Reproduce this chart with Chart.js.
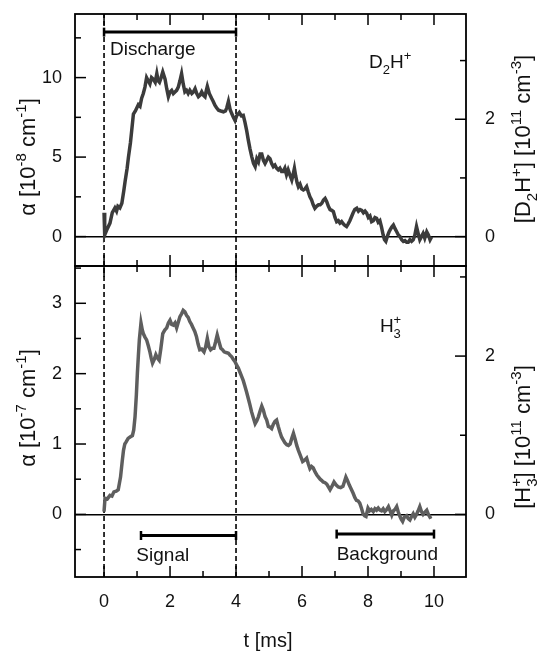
<!DOCTYPE html>
<html>
<head>
<meta charset="utf-8">
<script src="https://cdn.jsdelivr.net/npm/chart.js@4"></script>
<style>
  html, body { margin: 0; background: #fff; }
  #wrap { position: relative; width: 537px; height: 653px; overflow: hidden; }
  canvas { position: absolute; left: 0; }
  #top { top: -20px; }
  #bottom { top: 240px; }
</style>
</head>
<body>
<div id="wrap">
  <canvas id="bottom" width="537" height="413"></canvas>
  <canvas id="top" width="537" height="310"></canvas>
</div>
<script>
// D2H+ absorption (10^-8 cm^-1) vs time (ms)
const d2hTime = [0.00, 0.02, 0.10, 0.18, 0.25, 0.33, 0.38, 0.42, 0.48, 0.54, 0.60, 0.64, 0.70, 0.74, 0.80, 0.84, 0.89, 0.95, 1.04, 1.09,
    1.14, 1.19, 1.24, 1.29, 1.34, 1.39, 1.44, 1.49, 1.55, 1.60, 1.64, 1.68, 1.73, 1.78, 1.85, 1.90, 1.95, 2.00, 2.05, 2.10,
    2.15, 2.20, 2.25, 2.30, 2.35, 2.40, 2.45, 2.50, 2.55, 2.60, 2.66, 2.71, 2.76, 2.81, 2.86, 2.91, 2.96, 3.01, 3.06, 3.10,
    3.13, 3.19, 3.26, 3.31, 3.36, 3.41, 3.47, 3.54, 3.62, 3.68, 3.72, 3.77, 3.82, 3.87, 3.92, 3.97, 4.02, 4.10, 4.16, 4.22,
    4.27, 4.32, 4.37, 4.42, 4.48, 4.53, 4.58, 4.63, 4.68, 4.73, 4.78, 4.83, 4.88, 4.93, 4.98, 5.03, 5.08, 5.13, 5.18, 5.23,
    5.28, 5.33, 5.38, 5.43, 5.48, 5.53, 5.58, 5.63, 5.69, 5.73, 5.77, 5.81, 5.85, 5.89, 5.94, 5.99, 6.04, 6.09, 6.14, 6.19,
    6.24, 6.29, 6.34, 6.39, 6.44, 6.50, 6.55, 6.60, 6.65, 6.70, 6.75, 6.80, 6.85, 6.90, 6.95, 7.00, 7.05, 7.10, 7.15, 7.20,
    7.25, 7.30, 7.35, 7.40, 7.45, 7.50, 7.55, 7.60, 7.66, 7.71, 7.76, 7.81, 7.86, 7.91, 7.96, 8.01, 8.06, 8.11, 8.16, 8.21,
    8.26, 8.31, 8.36, 8.41, 8.46, 8.50, 8.54, 8.60, 8.64, 8.67, 8.72, 8.77, 8.82, 8.87, 8.92, 8.97, 9.02, 9.07, 9.12, 9.17,
    9.22, 9.27, 9.32, 9.37, 9.42, 9.47, 9.52, 9.57, 9.62, 9.67, 9.72, 9.78, 9.83, 9.88, 9.93]
const d2hAlpha = [1.5, 0.1, 0.5, 0.85, 1.5, 1.8, 1.6, 1.9, 1.8, 2.1, 2.9, 3.5, 4.3, 5.0, 5.9, 6.7, 7.7, 7.9, 8.3, 8.2,
    8.7, 9.0, 9.4, 10.0, 9.8, 9.6, 10.0, 9.9, 9.7, 10.25, 9.8, 9.7, 10.0, 10.35, 9.9, 9.3, 8.8, 9.1, 9.2, 9.0,
    9.1, 9.2, 9.4, 9.8, 10.25, 9.6, 9.1, 9.2, 9.0, 9.2, 9.0, 9.1, 9.3, 9.0, 8.8, 8.9, 9.1, 8.9, 8.8, 9.2,
    9.45, 9.0, 8.7, 8.5, 8.26, 8.1, 7.95, 7.9, 7.85, 7.9, 8.1, 8.5, 8.0, 7.74, 7.5, 7.3, 7.6, 7.8, 7.6, 7.63,
    7.2, 6.7, 6.1, 5.55, 5.0, 4.6, 4.4, 4.9, 4.7, 5.2, 5.2, 4.8, 4.6, 4.8, 5.0, 4.9, 4.6, 4.4, 4.5, 4.3,
    4.2, 4.3, 4.1, 4.1, 4.3, 3.9, 4.2, 3.9, 3.56, 3.9, 4.3, 3.8, 3.4, 3.14, 3.3, 3.0, 2.93, 3.0, 3.14, 2.8,
    2.5, 2.3, 2.0, 1.78, 1.9, 2.0, 2.0, 2.1, 2.3, 2.4, 2.2, 1.9, 1.7, 1.65, 1.57, 1.2, 0.94, 1.0, 0.85, 0.94,
    0.8, 0.7, 0.63, 0.8, 1.0, 1.25, 1.5, 1.7, 1.78, 1.6, 1.7, 1.65, 1.5, 1.6, 1.47, 1.2, 1.3, 0.94, 1.0, 1.2,
    1.15, 0.9, 1.0, 0.6, 0.1, -0.2, -0.3, 0.1, 0.3, 0.42, 0.6, 0.73, 0.5, 0.3, 0.1, 0.0, -0.2, -0.3, -0.25, -0.35,
    -0.35, -0.2, -0.3, -0.2, 0.1, 0.63, 0.2, -0.2, 0.0, 0.2, -0.1, 0.3, 0.1, -0.2, 0.0]

// H3+ absorption (10^-7 cm^-1) vs time (ms)
const h3Time = [0.00, 0.03, 0.10, 0.18, 0.24, 0.30, 0.37, 0.43, 0.50, 0.55, 0.59, 0.63, 0.67, 0.73, 0.79, 0.86, 0.90, 0.94, 0.98, 1.01,
    1.04, 1.07, 1.12, 1.16, 1.19, 1.24, 1.29, 1.34, 1.39, 1.43, 1.47, 1.52, 1.57, 1.62, 1.67, 1.72, 1.78, 1.84, 1.90, 1.95,
    2.00, 2.05, 2.10, 2.15, 2.20, 2.25, 2.30, 2.35, 2.40, 2.45, 2.50, 2.55, 2.60, 2.65, 2.70, 2.75, 2.80, 2.85, 2.90, 2.96,
    3.03, 3.08, 3.13, 3.18, 3.23, 3.28, 3.33, 3.38, 3.43, 3.48, 3.54, 3.59, 3.64, 3.70, 3.77, 3.82, 3.87, 3.92, 3.97, 4.02,
    4.07, 4.12, 4.17, 4.22, 4.27, 4.32, 4.37, 4.42, 4.47, 4.52, 4.58, 4.63, 4.68, 4.73, 4.78, 4.83, 4.88, 4.93, 4.98, 5.03,
    5.08, 5.13, 5.18, 5.23, 5.28, 5.33, 5.38, 5.43, 5.48, 5.54, 5.59, 5.64, 5.69, 5.74, 5.79, 5.84, 5.89, 5.94, 5.98, 6.02,
    6.08, 6.14, 6.19, 6.24, 6.29, 6.34, 6.40, 6.45, 6.50, 6.55, 6.60, 6.64, 6.70, 6.75, 6.80, 6.85, 6.91, 6.97, 7.03, 7.10,
    7.17, 7.24, 7.29, 7.33, 7.38, 7.43, 7.49, 7.55, 7.60, 7.65, 7.70, 7.75, 7.80, 7.85, 7.90, 7.94, 8.00, 8.05, 8.10, 8.16,
    8.21, 8.26, 8.31, 8.36, 8.41, 8.46, 8.51, 8.57, 8.62, 8.67, 8.72, 8.77, 8.82, 8.87, 8.92, 8.97, 9.01, 9.05, 9.10, 9.17,
    9.22, 9.27, 9.32, 9.37, 9.42, 9.47, 9.52, 9.57, 9.62, 9.67, 9.72, 9.78, 9.83, 9.88, 9.93]
const h3Alpha = [0.04, 0.23, 0.22, 0.27, 0.26, 0.32, 0.33, 0.35, 0.53, 0.75, 0.91, 1.0, 1.03, 1.08, 1.1, 1.12, 1.2, 1.39, 1.7, 2.0,
    2.25, 2.48, 2.72, 2.62, 2.57, 2.52, 2.48, 2.40, 2.31, 2.22, 2.15, 2.2, 2.27, 2.22, 2.19, 2.35, 2.57, 2.62, 2.65, 2.72,
    2.76, 2.70, 2.69, 2.72, 2.65, 2.73, 2.81, 2.85, 2.9, 2.88, 2.83, 2.8, 2.74, 2.70, 2.65, 2.6, 2.53, 2.42, 2.34, 2.35,
    2.31, 2.38, 2.5, 2.38, 2.34, 2.36, 2.36, 2.45, 2.55, 2.46, 2.36, 2.34, 2.31, 2.3, 2.29, 2.26, 2.24, 2.2, 2.17, 2.12,
    2.08, 2.02, 1.96, 1.9, 1.82, 1.74, 1.65, 1.56, 1.46, 1.38, 1.29, 1.33, 1.39, 1.47, 1.54, 1.48, 1.39, 1.34, 1.25, 1.24,
    1.22, 1.28, 1.32, 1.34, 1.25, 1.17, 1.1, 1.06, 1.02, 0.99, 0.98, 1.0, 1.08, 1.15, 1.07, 0.98, 0.91, 0.85, 0.8, 0.75,
    0.77, 0.8, 0.72, 0.65, 0.68, 0.66, 0.6, 0.56, 0.53, 0.5, 0.48, 0.46, 0.45, 0.43, 0.39, 0.35, 0.4, 0.46, 0.42, 0.39,
    0.38, 0.4, 0.47, 0.53, 0.48, 0.42, 0.36, 0.3, 0.24, 0.2, 0.19, 0.16, 0.09, 0.01, -0.02, -0.03, 0.09, 0.05, 0.07, 0.04,
    0.08, 0.06, 0.09, 0.06, 0.05, 0.08, 0.04, 0.07, 0.11, 0.05, -0.01, 0.05, 0.07, 0.11, 0.03, -0.03, -0.07, -0.1, -0.04, -0.02,
    -0.06, -0.08, -0.03, 0.01, -0.04, 0.0, 0.05, 0.11, 0.04, 0.0, 0.03, 0.06, 0.0, -0.04, -0.03]

const timeTicks = [0, 1, 2, 3, 4, 5, 6, 7, 8, 9, 10]
const timeLabels = [0, 2, 4, 6, 8, 10]
const d2hAlphaTicks = [0, 2.5, 5, 7.5, 10, 12.5]
const d2hAlphaLabels = [0, 5, 10]
const d2hDensityTicks = [0, 1, 2, 3]
const d2hDensityLabels = [0, 2]
const h3AlphaTicks = [-0.5, 0, 0.5, 1, 1.5, 2, 2.5, 3, 3.5]
const h3AlphaLabels = [0, 1, 2, 3]
const h3DensityTicks = [0, 1, 2, 3]
const h3DensityLabels = [0, 2]

const dischargeWindow = [0, 4]
const signalWindow = [1.12, 4]
const backgroundWindow = [7.05, 10]

const FONT = '"Liberation Sans", Arial, Helvetica, sans-serif'
const timeRange = [-0.88, 10.97]

function drawRich(ctx, parts, x, y, size, align, rotate) {
    const small = Math.round(size * 0.66)
    ctx.save()
    ctx.translate(x, y)
    if (rotate) ctx.rotate(-Math.PI / 2)
    ctx.fillStyle = "#111"
    ctx.textBaseline = "alphabetic"
    const adv = parts.map(p => {
        ctx.font = (p.s ? small : size) + "px " + FONT
        return p.stack ? 0 : ctx.measureText(p.t).width
    })
    const total = adv.reduce((a, b) => a + b, 0)
    let cx = align === "center" ? -total / 2 : 0
    const base = align === "center" ? size * 0.36 : 0
    parts.forEach((p, i) => {
        ctx.font = (p.s ? small : size) + "px " + FONT
        const dy = p.s === "sup" ? -size * 0.42 : p.s === "sub" ? size * 0.3 : 0
        ctx.fillText(p.t, cx, base + dy)
        cx += adv[i]
    })
    ctx.restore()
}

const framePlugin = {
    id: "frame",
    afterDraw(chart, args, o) {
        const { ctx, chartArea: a, scales } = chart
        const seg = (x1, y1, x2, y2) => { ctx.beginPath(); ctx.moveTo(x1, y1); ctx.lineTo(x2, y2); ctx.stroke() }
        ctx.save()
        ctx.strokeStyle = "#000"
        ctx.lineWidth = 1.8
        ctx.strokeRect(a.left, a.top, a.width, a.height)
        ctx.lineWidth = 1.5
        timeTicks.forEach(v => {
            const x = scales.x.getPixelForValue(v)
            const len = timeLabels.includes(v) ? 11 : 6
            seg(x, a.top, x, a.top + len)
            seg(x, a.bottom, x, a.bottom - len)
        })
        scales.y.ticks.forEach(t => {
            const y = scales.y.getPixelForValue(t.value)
            seg(a.left, y, a.left + (t.label !== "" ? 11 : 6), y)
        })
        scales.y2.ticks.forEach(t => {
            const y = scales.y2.getPixelForValue(t.value)
            seg(a.right, y, a.right - (t.label !== "" ? 11 : 6), y)
        })
        ctx.restore()

        o.notes.forEach(n => {
            drawRich(ctx, n.parts, scales.x.getPixelForValue(n.t), scales.y.getPixelForValue(n.v), 19, "left", false)
        })
        o.titles.forEach(n => drawRich(ctx, n.parts, n.px, n.py, n.size || 22, "center", n.rotate))
    }
}

function zip(xs, ys) {
    return xs.map((x, i) => ({ x: x, y: ys[i] }))
}

function barDataset(win, level) {
    return {
        data: win.map(t => ({ x: t, y: level })),
        showLine: true,
        borderColor: "#000",
        borderWidth: 3,
        pointStyle: "line",
        rotation: 90,
        pointRadius: 4.5,
        pointBorderWidth: 2.5,
        pointBorderColor: "#000"
    }
}

function dashDatasets(range) {
    return dischargeWindow.map(t => ({
        data: [{ x: t, y: range[0] }, { x: t, y: range[1] }],
        showLine: true,
        borderColor: "#000",
        borderWidth: 1.6,
        borderDash: [5, 3],
        pointRadius: 0
    }))
}

function tickFont() {
    return { family: FONT, size: 18 }
}

function makePanel(id, o) {
    return new Chart(document.getElementById(id), {
        type: "scatter",
        data: {
            datasets: [
                {
                    data: zip(o.time, o.alpha),
                    showLine: true,
                    borderColor: o.color,
                    borderWidth: 3.5,
                    pointRadius: 0,
                    tension: 0
                },
                ...dashDatasets(o.alphaRange),
                ...o.bars
            ]
        },
        options: {
            responsive: false,
            animation: false,
            devicePixelRatio: 1,
            events: [],
            layout: { padding: o.padding },
            plugins: {
                legend: { display: false },
                tooltip: { enabled: false },
                frame: { notes: o.notes, titles: o.titles }
            },
            scales: {
                x: {
                    type: "linear",
                    min: timeRange[0],
                    max: timeRange[1],
                    display: o.showTime,
                    afterBuildTicks: s => { s.ticks = timeTicks.map(v => ({ value: v })) },
                    afterFit: s => { if (o.showTime) s.height = 76 },
                    grid: { display: false },
                    border: { display: false },
                    ticks: {
                        autoSkip: false,
                        maxRotation: 0,
                        padding: 6,
                        color: "#111",
                        font: tickFont(),
                        callback: v => timeLabels.includes(v) ? String(v) : ""
                    }
                },
                y: {
                    type: "linear",
                    position: "left",
                    min: o.alphaRange[0],
                    max: o.alphaRange[1],
                    afterBuildTicks: s => { s.ticks = o.alphaTicks.map(v => ({ value: v })) },
                    afterFit: s => { s.width = 75 },
                    grid: {
                        drawTicks: false,
                        lineWidth: 1.5,
                        color: c => c.tick && c.tick.value === 0 ? "#000" : "rgba(0,0,0,0)"
                    },
                    border: { display: false },
                    ticks: {
                        padding: 13,
                        color: "#111",
                        font: tickFont(),
                        callback: v => o.alphaLabels.includes(v) ? String(v) : ""
                    }
                },
                y2: {
                    type: "linear",
                    position: "right",
                    min: o.densityRange[0],
                    max: o.densityRange[1],
                    afterBuildTicks: s => { s.ticks = o.densityTicks.map(v => ({ value: v })) },
                    afterFit: s => { s.width = 71 },
                    grid: { display: false },
                    border: { display: false },
                    ticks: {
                        padding: 11,
                        color: "#111",
                        font: tickFont(),
                        callback: v => o.densityLabels.includes(v) ? String(v) : ""
                    }
                }
            }
        },
        plugins: [framePlugin]
    })
}

const d2hRange = [-1.85, 14]
const h3Range = [-0.89, 3.53]

// top canvas sits 20px above the page, so its titles are shifted by +20
makePanel("top", {
    time: d2hTime,
    alpha: d2hAlpha,
    color: "#3b3b3b",
    alphaRange: d2hRange,
    alphaTicks: d2hAlphaTicks,
    alphaLabels: d2hAlphaLabels,
    densityRange: [d2hRange[0] * 0.271, d2hRange[1] * 0.271],
    densityTicks: d2hDensityTicks,
    densityLabels: d2hDensityLabels,
    showTime: false,
    padding: { top: 34, bottom: 24, left: 0, right: 0 },
    bars: [barDataset(dischargeWindow, 12.86)],
    notes: [
        { t: 0.18, v: 11.4, parts: [{ t: "Discharge" }] },
        { t: 8.03, v: 10.58, parts: [{ t: "D" }, { t: "2", s: "sub" }, { t: "H" }, { t: "+", s: "sup" }] }
    ],
    titles: [
        { px: 27, py: 177, rotate: true, parts: [{ t: "α [10" }, { t: "-8", s: "sup" }, { t: " cm" }, { t: "-1", s: "sup" }, { t: "]" }] },
        { px: 522, py: 159, rotate: true, parts: [{ t: "[D" }, { t: "2", s: "sub" }, { t: "H" }, { t: "+", s: "sup" }, { t: "] [10" }, { t: "11", s: "sup" }, { t: " cm" }, { t: "-3", s: "sup" }, { t: "]" }] }
    ]
})

makePanel("bottom", {
    time: h3Time,
    alpha: h3Alpha,
    color: "#5e5e5e",
    alphaRange: h3Range,
    alphaTicks: h3AlphaTicks,
    alphaLabels: h3AlphaLabels,
    densityRange: [h3Range[0] * 0.889, h3Range[1] * 0.889],
    densityTicks: h3DensityTicks,
    densityLabels: h3DensityLabels,
    showTime: true,
    padding: { top: 26, bottom: 0, left: 0, right: 0 },
    bars: [barDataset(signalWindow, -0.3), barDataset(backgroundWindow, -0.28)],
    notes: [
        { t: 8.36, v: 2.59, parts: [{ t: "H" }, { t: "+", s: "sup", stack: true }, { t: "3", s: "sub" }] },
        { t: 0.98, v: -0.66, parts: [{ t: "Signal" }] },
        { t: 7.05, v: -0.65, parts: [{ t: "Background" }] }
    ],
    titles: [
        { px: 27, py: 168, rotate: true, parts: [{ t: "α [10" }, { t: "-7", s: "sup" }, { t: " cm" }, { t: "-1", s: "sup" }, { t: "]" }] },
        { px: 522, py: 197, rotate: true, parts: [{ t: "[H" }, { t: "+", s: "sup", stack: true }, { t: "3", s: "sub" }, { t: "] [10" }, { t: "11", s: "sup" }, { t: " cm" }, { t: "-3", s: "sup" }, { t: "]" }] },
        { px: 268, py: 400, rotate: false, size: 20, parts: [{ t: "t [ms]" }] }
    ]
})
</script>
</body>
</html>
